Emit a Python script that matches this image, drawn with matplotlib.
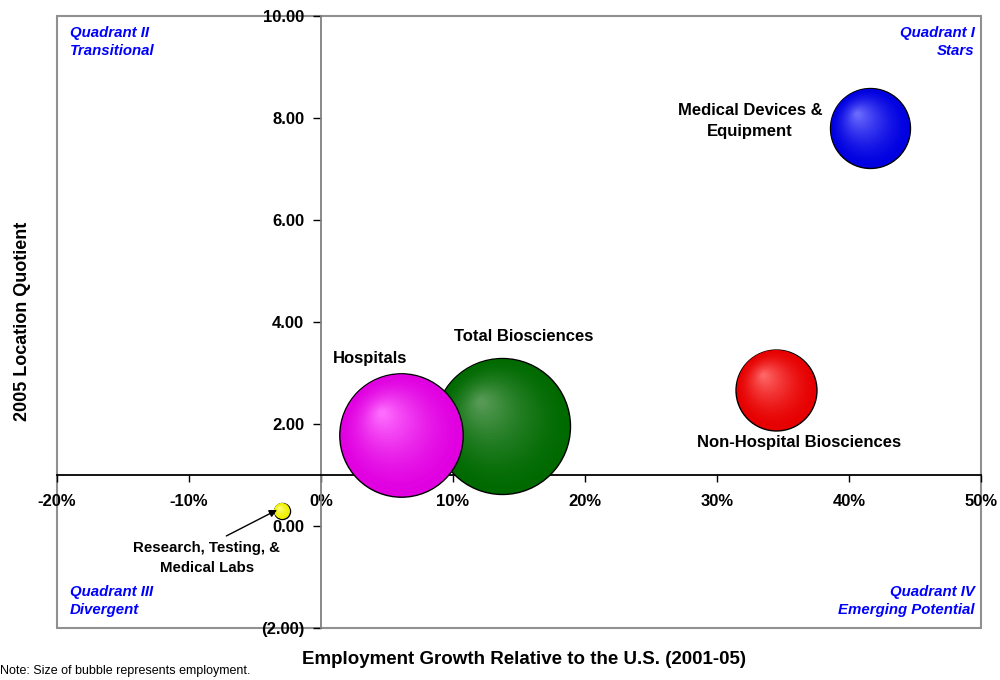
import matplotlib
matplotlib.use("Agg")
import matplotlib.pyplot as plt
import numpy as np
from matplotlib.patches import Rectangle
from matplotlib.transforms import offset_copy
from matplotlib.colors import to_rgb

plt.rcParams['font.family'] = ['Liberation Sans', 'DejaVu Sans']

# bubble data: employment growth vs US (%), 2005 location quotient, employment
names = ['Total Biosciences', 'Hospitals', 'Non-Hospital Biosciences',
         'Medical Devices & Equipment', 'Research, Testing, & Medical Labs']
growth = [13.74, 6.09, 34.5, 41.6, -2.95]
lq = [1.96, 1.78, 2.67, 7.80, 0.29]
employment = [46000, 37900, 16300, 15900, 640]
base_colors = ['#006a00', '#e000e0', '#e60000', '#0000e0', '#f0f000']
light_colors = ['#5a9c5a', '#ff70ff', '#ff6a6a', '#6f6fff', '#ffff90']

xticks = [-20, -10, 0, 10, 20, 30, 40, 50]
yticks = [-2, 0, 2, 4, 6, 8, 10]

fig = plt.figure(figsize=(10, 6.8), dpi=100)
ax = fig.add_axes([0.057, 0.0769, 0.924, 0.8996])
ax.set_xlim(-20, 50)
ax.set_ylim(-2, 10)

size_k = 0.2084
n_layers = 30
for j in range(len(names)):
    s = employment[j] * size_k
    r_pt = np.sqrt(s) / 2
    z = 3 + j
    ax.scatter([growth[j]], [lq[j]], s=s, color=base_colors[j],
               edgecolors='black', linewidths=1.0, zorder=z)
    c0 = np.array(to_rgb(base_colors[j]))
    c1 = np.array(to_rgb(light_colors[j]))
    for i in range(1, n_layers):
        t = i / n_layers
        tr = offset_copy(ax.transData, fig=fig, x=-0.32 * r_pt * t,
                         y=0.36 * r_pt * t, units='points')
        col = c0 + (c1 - c0) * t ** 1.6
        ax.scatter([growth[j]], [lq[j]], s=s * (1 - t * 0.97) ** 2,
                   color=col, edgecolors='none', transform=tr, zorder=z)

# spines: axes cross at x=0 and y=1
ax.spines['left'].set_position(('data', 0))
ax.spines['left'].set_color('#808080')
ax.spines['left'].set_linewidth(1.3)
ax.spines['bottom'].set_position(('data', 1))
ax.spines['bottom'].set_color('black')
ax.spines['bottom'].set_linewidth(1.3)
ax.spines['top'].set_visible(False)
ax.spines['right'].set_visible(False)
ax.add_patch(Rectangle((0, 0), 1, 1, transform=ax.transAxes, fill=False,
                       ec='#909090', lw=1.5, clip_on=False, zorder=1))

ax.set_xticks(xticks)
ax.set_xticklabels([f"{v}%" for v in xticks])
ax.set_yticks(yticks)
ax.set_yticklabels([f"({abs(v):.2f})" if v < 0 else f"{v:.2f}" for v in yticks])
ax.tick_params(axis='x', direction='out', length=5, width=1, pad=9,
               labelsize=12)
ax.tick_params(axis='y', direction='out', length=6, width=1, pad=6,
               labelsize=12)
for lab in ax.get_xticklabels() + ax.get_yticklabels():
    lab.set_fontweight('bold')

# bubble labels
lab_kw = dict(fontsize=12, fontweight='bold', ha='center', va='center',
              zorder=10)
ax.text(32.5, 7.94, 'Medical Devices &\nEquipment', linespacing=1.45, **lab_kw)
ax.text(36.2, 1.63, 'Non-Hospital Biosciences', **lab_kw)
ax.text(15.36, 3.71, 'Total Biosciences', **lab_kw)
ax.text(3.69, 3.29, 'Hospitals', **lab_kw)
ax.text(-8.66, -0.63, 'Research, Testing, &\nMedical Labs', fontsize=10.8,
        fontweight='bold', ha='center', va='center', linespacing=1.55,
        zorder=10)
ax.annotate('', xy=(-3.33, 0.31), xytext=(-7.17, -0.20), zorder=10,
            arrowprops=dict(arrowstyle='-|>', color='black', lw=1,
                            mutation_scale=11, shrinkA=0, shrinkB=0))

# quadrant labels
q_kw = dict(transform=ax.transAxes, color='#0000ff', fontsize=10.8,
            fontweight='bold', fontstyle='italic', linespacing=1.35)
ax.text(0.014, 0.984, 'Quadrant II\nTransitional', ha='left', va='top', **q_kw)
ax.text(0.993, 0.984, 'Quadrant I\nStars', ha='right', va='top',
        multialignment='right', **q_kw)
ax.text(0.014, 0.018, 'Quadrant III\nDivergent', ha='left', va='bottom', **q_kw)
ax.text(0.993, 0.018, 'Quadrant IV\nEmerging Potential', ha='right',
        va='bottom', multialignment='right', **q_kw)

fig.text(0.5235, 0.030, 'Employment Growth Relative to the U.S. (2001-05)',
         ha='center', va='center', fontsize=13.5, fontweight='bold')
fig.text(0.023, 0.528, '2005 Location Quotient', ha='center', va='center',
         rotation=90, fontsize=13, fontweight='bold')
fig.text(0.0, 0.004, 'Note: Size of bubble represents employment.',
         ha='left', va='bottom', fontsize=9,
         family=['Liberation Sans Narrow', 'Liberation Sans', 'DejaVu Sans'])

fig.savefig('out.png', dpi=100)
